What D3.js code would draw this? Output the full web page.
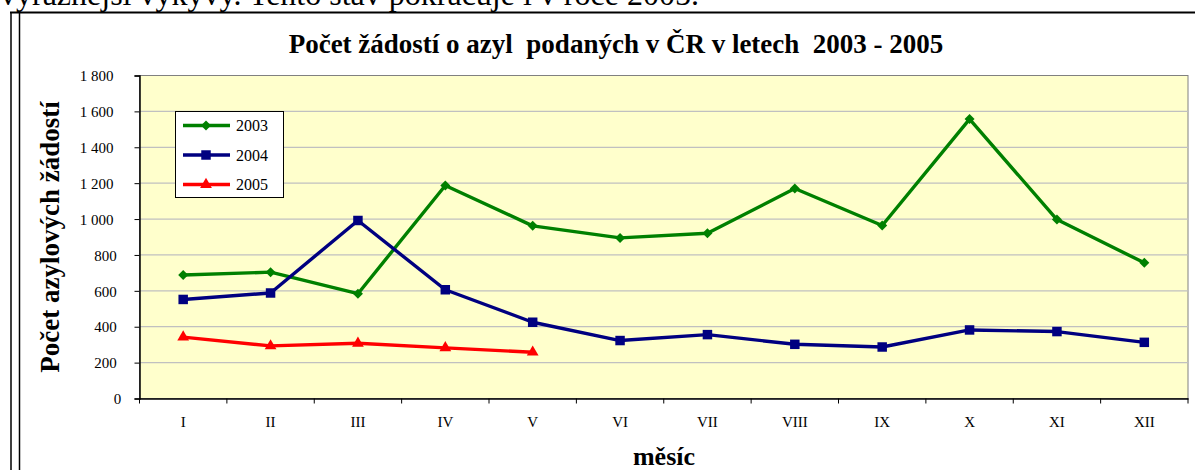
<html><head><title>Počet žádostí o azyl</title>
<style>
  body {
    margin: 0;
    background: #fff;
    overflow: hidden;
  }
  svg {
    display: block;
  }
  svg text {
    font-family: 'Liberation Serif', 'Times New Roman', serif;
  }
</style>
</head>
<body>
  <svg id="chart" width="1195" height="470"></svg>

  <script src="https://cdnjs.cloudflare.com/ajax/libs/d3/7.8.5/d3.min.js"></script>
  <script>
    // data
    const months = ['I', 'II', 'III', 'IV', 'V', 'VI', 'VII', 'VIII', 'IX', 'X', 'XI', 'XII'];
    const years = ['2003', '2004', '2005'];
    const values2003 = [688, 704, 584, 1187, 962, 895, 921, 1170, 964, 1557, 997, 756];
    const values2004 = [552, 588, 992, 606, 425, 323, 356, 302, 287, 382, 373, 313];
    const values2005 = [342, 293, 308, 282, 258];
    const yTicks = [0, 200, 400, 600, 800, 1000, 1200, 1400, 1600, 1800];

    const series = [
      { name: years[0], values: values2003, color: '#008000', symbol: 'diamond' },
      { name: years[1], values: values2004, color: '#000080', symbol: 'square' },
      { name: years[2], values: values2005, color: '#ff0000', symbol: 'triangle' }
    ];

    const serif = "'Liberation Serif', 'Times New Roman', serif";
    const svg = d3.select('#chart');
    const plotLeft = 139.5, plotRight = 1188, plotTop = 75.5, plotBottom = 398.5;

    // page text above the frame
    svg.append('text')
      .attr('x', 0).attr('y', 5)
      .attr('font-family', serif)
      .attr('font-size', 32)
      .text('výraznější výkyvy. Tento stav pokračuje i v roce 2005.');

    // document frame
    svg.append('line').attr('x1', 10).attr('x2', 1195).attr('y1', 12.5).attr('y2', 12.5)
      .attr('stroke', '#000').attr('stroke-width', 2);
    svg.append('line').attr('x1', 11).attr('x2', 11).attr('y1', 12).attr('y2', 470)
      .attr('stroke', '#000').attr('stroke-width', 1.5);
    svg.append('line').attr('x1', 19.5).attr('x2', 19.5).attr('y1', 12).attr('y2', 470)
      .attr('stroke', '#000').attr('stroke-width', 1.5);

    const x = d3.scaleBand().domain(months).range([plotLeft, plotRight]);
    const y = d3.scaleLinear().domain([0, 1800]).range([plotBottom, plotTop]);

    // plot area
    svg.append('rect')
      .attr('x', plotLeft).attr('y', plotTop)
      .attr('width', plotRight - plotLeft).attr('height', plotBottom - plotTop)
      .attr('fill', '#ffffcc')
      .attr('stroke', '#808080');

    svg.append('g')
      .selectAll('line')
      .data(yTicks.filter(d => d > 0 && d < 1800))
      .enter().append('line')
      .attr('x1', plotLeft).attr('x2', plotRight)
      .attr('y1', d => y(d)).attr('y2', d => y(d))
      .attr('stroke', '#c0c0c0').attr('stroke-width', 1.2);

    // y axis
    const yAxis = svg.append('g')
      .attr('transform', `translate(${plotLeft},0)`)
      .call(d3.axisLeft(y).tickValues(yTicks).tickSize(5).tickPadding(16)
        .tickFormat(d => d3.format(',')(d).replace(',', ' ')));
    yAxis.select('.domain').attr('stroke', '#000').attr('stroke-width', 1.5);
    yAxis.selectAll('.tick line').attr('stroke', '#000');
    yAxis.selectAll('.tick text')
      .attr('font-family', serif)
      .attr('font-size', 15)
      .attr('fill', '#000')
      .attr('dy', '0.35em')
      .each(function () {
        const w = this.getComputedTextLength();
        d3.select(this).attr('x', -16 - w * 0.3);
      });

    // x axis
    const xAxis = svg.append('g')
      .attr('transform', `translate(0,${plotBottom})`)
      .call(d3.axisBottom(x).tickSize(0).tickPadding(18));
    xAxis.select('.domain').attr('stroke', '#000').attr('stroke-width', 1.5);
    xAxis.selectAll('.tick text')
      .attr('font-family', serif)
      .attr('font-size', 15)
      .attr('fill', '#000');

    svg.append('g')
      .selectAll('line')
      .data(months.map(m => x(m)).concat([plotRight]))
      .enter().append('line')
      .attr('x1', d => d).attr('x2', d => d)
      .attr('y1', plotBottom).attr('y2', plotBottom + 5)
      .attr('stroke', '#000');

    // lines and markers
    const cx = (d, i) => x(months[i]) + x.bandwidth() / 2;
    const line = d3.line().x(cx).y(d => y(d));

    const symbols = {
      diamond: d3.symbol().type(d3.symbolSquare).size(50),
      square: d3.symbol().type(d3.symbolSquare).size(90),
      triangle: d3.symbol().type(d3.symbolTriangle).size(60)
    };
    const rotate = s => s.symbol === 'diamond' ? ' rotate(45)' : '';

    series.forEach(s => {
      svg.append('path')
        .datum(s.values)
        .attr('d', line)
        .attr('fill', 'none')
        .attr('stroke', s.color)
        .attr('stroke-width', 3.4)
        .attr('stroke-linejoin', 'round');

      svg.append('g')
        .selectAll('path')
        .data(s.values)
        .enter().append('path')
        .attr('d', symbols[s.symbol]())
        .attr('transform', (d, i) => `translate(${cx(d, i)},${y(d)})` + rotate(s))
        .attr('fill', s.color);
    });

    // legend
    svg.append('rect')
      .attr('x', 175.5).attr('y', 111.5)
      .attr('width', 108).attr('height', 86)
      .attr('fill', '#fff').attr('stroke', '#000');

    series.forEach((s, i) => {
      const ly = 125.5 + i * 29.5;
      svg.append('line')
        .attr('x1', 183).attr('x2', 230).attr('y1', ly).attr('y2', ly)
        .attr('stroke', s.color).attr('stroke-width', 3.4);
      svg.append('path')
        .attr('d', symbols[s.symbol]())
        .attr('transform', `translate(206,${ly})` + rotate(s))
        .attr('fill', s.color);
      svg.append('text')
        .attr('x', 236).attr('y', ly + 5.5)
        .attr('font-family', serif)
        .attr('font-size', 16)
        .text(s.name);
    });

    // titles
    svg.append('text')
      .attr('x', 616).attr('y', 53)
      .attr('text-anchor', 'middle')
      .attr('font-family', serif)
      .attr('font-size', 27)
      .attr('font-weight', 'bold')
      .style('white-space', 'pre')
      .text('Počet žádostí o azyl  podaných v ČR v letech  2003 - 2005');

    svg.append('text')
      .attr('transform', 'translate(59,237) rotate(-90)')
      .attr('text-anchor', 'middle')
      .attr('font-family', serif)
      .attr('font-size', 27)
      .attr('font-weight', 'bold')
      .text('Počet azylových žádostí');

    svg.append('text')
      .attr('x', 664).attr('y', 465)
      .attr('text-anchor', 'middle')
      .attr('font-family', serif)
      .attr('font-size', 26)
      .attr('font-weight', 'bold')
      .text('měsíc');
  </script>
</body></html>
